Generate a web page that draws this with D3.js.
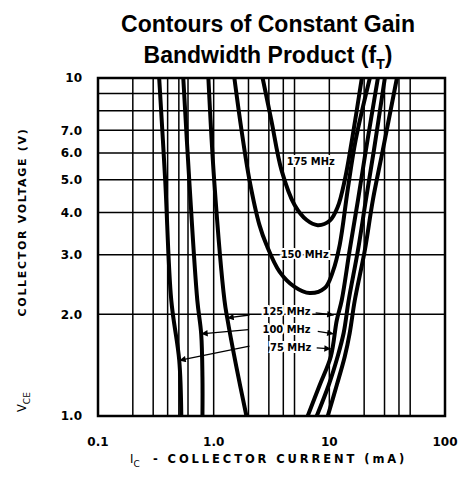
<!DOCTYPE html>
<html>
<head>
<meta charset="utf-8">
<script src="https://cdn.jsdelivr.net/npm/d3@7"></script>
<style>
body { margin: 0; background: #fff; }
svg text { font-family: "DejaVu Sans", "Liberation Sans", sans-serif; fill: #000; }
</style>
</head>
<body>
<div id="chart"></div>
<script>
// axis ticks
const xTicks = [0.1, 1, 10, 100];
const xTickLabels = ["0.1", "1.0", "10", "100"];
const yTicks = [1, 2, 3, 4, 5, 6, 7, 10];
const yTickLabels = ["1.0", "2.0", "3.0", "4.0", "5.0", "6.0", "7.0", "10"];
const xGrid = [0.2, 0.3, 0.4, 0.5, 0.6, 1, 2, 3, 4, 5, 10, 20, 30, 40, 50];
const yGrid = [2, 3, 4, 5, 6, 7, 8, 9];

// contours, [Ic (mA), Vce (V)]
const f175 = [[2.65, 10], [3.15, 7.51], [3.86, 5.34], [5.01, 4.21], [6.37, 3.80], [7.93, 3.67],
    [10.07, 3.78], [11.8, 4.15], [13.6, 4.99], [15.7, 6.56], [19.1, 10]];
const f150 = [[1.51, 10], [1.74, 7.02], [2.04, 4.99], [2.49, 3.67], [2.86, 3.21], [3.72, 2.67],
    [5.01, 2.41], [6.76, 2.31], [9.13, 2.39], [10.7, 2.67], [12.3, 3.21], [14.4, 4.66],
    [16.9, 6.56], [22.4, 10]];
const f125Left = [[0.90, 10], [1.01, 4.99], [1.24, 2.20], [1.31, 1.95], [1.57, 1.40], [1.92, 1.0]];
const f125Right = [[6.50, 1.0], [8.26, 1.235], [10.3, 1.50], [11.6, 1.92], [12.8, 2.20],
    [15.0, 3.10], [17.7, 4.36], [20.7, 6.12], [26.3, 10]];
const f100Left = [[0.546, 10], [0.615, 4.99], [0.722, 2.20], [0.78, 1.75], [0.80, 1.30], [0.80, 1.0]];
const f100Right = [[7.78, 1.0], [9.88, 1.235], [11.8, 1.50], [13.3, 1.76], [14.7, 2.20],
    [17.7, 3.10], [20.7, 4.36], [24.3, 6.12], [30.2, 10]];
const f75Left = [[0.338, 10], [0.381, 4.99], [0.43, 2.20], [0.504, 1.46], [0.525, 1.0]];
const f75Right = [[9.69, 1.0], [11.6, 1.235], [13.6, 1.50], [15.0, 1.76], [16.6, 2.20],
    [20.3, 3.10], [23.8, 4.36], [29.0, 6.12], [38.4, 10]];

// contour labels and their pointer arrows
const contourLabels = ["175 MHz", "150 MHz", "125 MHz", "100 MHz", "75 MHz"];
const labelPos = [[6.91, 5.53], [6.12, 2.93], [4.27, 1.99], [4.27, 1.76], [4.63, 1.56]];
const arrows = [
    [[2.04, 1.99], [1.31, 1.95]], [[7.62, 2.02], [10.9, 1.99]],
    [[2.0, 1.80], [0.78, 1.75]], [[7.94, 1.78], [10.9, 1.75]],
    [[2.04, 1.61], [0.504, 1.46]], [[7.78, 1.59], [10.3, 1.58]]
];

const width = 464, height = 489;
const svg = d3.select("#chart").append("svg")
    .attr("width", width)
    .attr("height", height);

const x = d3.scaleLog().domain([0.1, 100]).range([98, 445]);
const y = d3.scaleLog().domain([1, 10]).range([416, 78]);

svg.append("defs").append("clipPath").attr("id", "plotClip")
    .append("rect")
    .attr("x", x(0.1)).attr("y", y(10))
    .attr("width", x(100) - x(0.1)).attr("height", y(1) - y(10));

svg.select("defs").append("marker")
    .attr("id", "head")
    .attr("viewBox", "0 0 10 10")
    .attr("refX", 10).attr("refY", 5)
    .attr("markerWidth", 7).attr("markerHeight", 5)
    .attr("orient", "auto")
    .append("path")
    .attr("d", "M0,0L10,5L0,10Z")
    .attr("fill", "#000");

// grid
svg.append("g").selectAll("line")
    .data(xGrid)
    .join("line")
    .attr("x1", d => x(d)).attr("x2", d => x(d))
    .attr("y1", y(10)).attr("y2", y(1))
    .attr("stroke", "#000").attr("stroke-width", 1.5);

svg.append("g").selectAll("line")
    .data(yGrid)
    .join("line")
    .attr("x1", x(0.1)).attr("x2", x(100))
    .attr("y1", d => y(d)).attr("y2", d => y(d))
    .attr("stroke", "#000").attr("stroke-width", 1.5);

svg.append("rect")
    .attr("x", x(0.1)).attr("y", y(10))
    .attr("width", x(100) - x(0.1)).attr("height", y(1) - y(10))
    .attr("fill", "none").attr("stroke", "#000").attr("stroke-width", 2.5);

// contour curves
const line = d3.line()
    .x(d => x(d[0]))
    .y(d => y(d[1]))
    .curve(d3.curveCatmullRom.alpha(0.5));

const curves = [f175, f150, f125Left, f125Right, f100Left, f100Right, f75Left, f75Right];
svg.append("g")
    .attr("clip-path", "url(#plotClip)")
    .selectAll("path")
    .data(curves)
    .join("path")
    .attr("d", line)
    .attr("fill", "none")
    .attr("stroke", "#000")
    .attr("stroke-width", 4)
    .attr("stroke-linecap", "round");

// labels with white halo so grid breaks around them
svg.append("g").selectAll("text")
    .data(contourLabels)
    .join("text")
    .attr("x", (d, i) => x(labelPos[i][0]))
    .attr("y", (d, i) => y(labelPos[i][1]))
    .attr("text-anchor", "middle")
    .style("font-family", "'DejaVu Sans Condensed', 'DejaVu Sans', sans-serif")
    .style("font-size", "11px")
    .style("font-weight", "bold")
    .style("paint-order", "stroke")
    .style("stroke", "#fff")
    .style("stroke-width", "4px")
    .text(d => d);

svg.append("g").selectAll("line")
    .data(arrows)
    .join("line")
    .attr("x1", d => x(d[0][0])).attr("y1", d => y(d[0][1]))
    .attr("x2", d => x(d[1][0])).attr("y2", d => y(d[1][1]))
    .attr("stroke", "#000").attr("stroke-width", 1.3)
    .attr("marker-end", "url(#head)");

// tick labels
svg.append("g").selectAll("text")
    .data(xTicks)
    .join("text")
    .attr("x", d => x(d))
    .attr("y", 446)
    .attr("text-anchor", "middle")
    .style("font-size", "12px")
    .style("font-weight", "bold")
    .text((d, i) => xTickLabels[i]);

svg.append("g").selectAll("text")
    .data(yTicks)
    .join("text")
    .attr("x", 82)
    .attr("y", d => y(d))
    .attr("dy", "0.36em")
    .attr("text-anchor", "end")
    .style("font-size", "12px")
    .style("font-weight", "bold")
    .text((d, i) => yTickLabels[i]);

// axis titles
const xTitle = svg.append("text")
    .attr("x", 130).attr("y", 463)
    .style("font-size", "11.5px")
    .style("font-weight", "bold");
xTitle.append("tspan").text("I").style("font-weight", "normal");
xTitle.append("tspan").text("C").attr("dy", 4).style("font-size", "9px").style("font-weight", "normal");
xTitle.append("tspan").text("- COLLECTOR CURRENT (mA)").attr("x", 153).attr("dy", -4)
    .style("letter-spacing", "2.9px");

svg.append("text")
    .attr("transform", "translate(26,222) rotate(-90)")
    .attr("text-anchor", "middle")
    .style("font-size", "11px")
    .style("font-weight", "bold")
    .style("letter-spacing", "1.7px")
    .text("COLLECTOR VOLTAGE (V)");

const yTitle2 = svg.append("text")
    .attr("transform", "translate(26,412) rotate(-90)")
    .style("font-size", "11.5px");
yTitle2.append("tspan").text("V");
yTitle2.append("tspan").text("CE").attr("dy", 4).style("font-size", "9px");

// chart title
svg.append("text")
    .attr("x", 268).attr("y", 32)
    .attr("text-anchor", "middle")
    .style("font-family", "'Liberation Sans', Arial, sans-serif")
    .style("font-size", "23px")
    .style("font-weight", "bold")
    .text("Contours of Constant Gain");

const t2 = svg.append("text")
    .attr("x", 268).attr("y", 63)
    .attr("text-anchor", "middle")
    .style("font-family", "'Liberation Sans', Arial, sans-serif")
    .style("font-size", "23px")
    .style("font-weight", "bold");
t2.append("tspan").text("Bandwidth Product (f");
t2.append("tspan").text("T").attr("dy", 6).style("font-size", "14px");
t2.append("tspan").text(")").attr("dy", -6);
</script>
</body>
</html>
